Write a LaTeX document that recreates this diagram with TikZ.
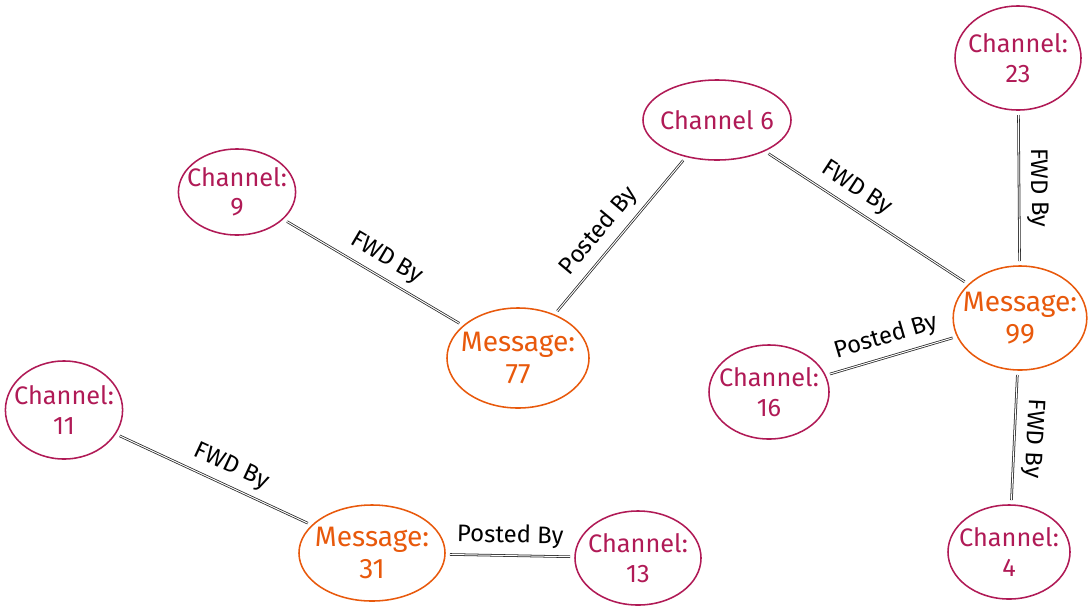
\documentclass[tikz,border=0pt]{standalone}
\usepackage{fontspec}
\setmainfont{Fira Sans}
\usetikzlibrary{shapes.geometric}

\definecolor{chancol}{RGB}{176,26,86}
\definecolor{msgcol}{RGB}{232,89,12}
\definecolor{relcol}{RGB}{40,40,40}

\begin{document}
\begin{tikzpicture}[x=0.025cm, y=-0.025cm,
    chan/.style={ellipse, draw=chancol, text=chancol, line width=1.1pt,
        inner xsep=-6pt, inner ysep=-3pt, align=center, font=\fontsize{18}{21}\selectfont},
    msg/.style={ellipse, draw=msgcol, text=msgcol, line width=1.1pt,
        inner xsep=-7pt, inner ysep=-3pt, align=center, font=\fontsize{20}{23}\selectfont},
    rel/.style={draw=relcol, line width=0.55pt, double=white, double distance=0.7pt,
        shorten <=3pt, shorten >=3pt},
    lbl/.style={sloped, above=2pt, text=black, font=\fontsize{17}{20}\selectfont}]
    % ================= Canvas =================
    \useasboundingbox (0,0) rectangle (1089,606);

    % ================= Messages =================
    \node[msg, minimum width=3.55cm, minimum height=2.5cm] (m77) at (518,358) {Message:\\77};
    \node[msg, minimum width=3.3cm, minimum height=2.6cm] (m99) at (1020,318) {Message:\\99};
    \node[msg, minimum width=3.65cm, minimum height=2.4cm] (m31) at (372,553) {Message:\\31};

    % ================= Channels =================
    \node[chan, minimum width=2.9cm, minimum height=2.15cm] (c9) at (237,192) {Channel:\\9};
    \node[chan, minimum width=3.7cm, minimum height=2cm] (c6) at (717,120) {Channel 6};
    \node[chan, minimum width=3.15cm, minimum height=2.6cm] (c23) at (1018,58) {Channel:\\23};
    \node[chan, minimum width=3cm, minimum height=2.35cm] (c16) at (769,392) {Channel:\\16};
    \node[chan, minimum width=3.05cm, minimum height=2.35cm] (c4) at (1009,552) {Channel:\\4};
    \node[chan, minimum width=2.85cm, minimum height=2.45cm] (c11) at (64,410) {Channel:\\11};
    \node[chan, minimum width=3.15cm, minimum height=2.35cm] (c13) at (638,558) {Channel:\\13};

    % ================= Relations =================
    \draw[rel] (c9) -- (m77) node[lbl, pos=0.52] {FWD By};
    \draw[rel] (m77) -- (c6) node[lbl, pos=0.45] {Posted By};
    \draw[rel] (c6) -- (m99) node[lbl, pos=0.4] {FWD By};
    \draw[rel] (c23) -- (m99) node[lbl, pos=0.5] {FWD By};
    \draw[rel] (c16) -- (m99) node[lbl, pos=0.5] {Posted By};
    \draw[rel] (m99) -- (c4) node[lbl, allow upside down, pos=0.5] {FWD By};
    \draw[rel] (c11) -- (m31) node[lbl, pos=0.55] {FWD By};
    \draw[rel] (m31) -- (c13) node[lbl, pos=0.5] {Posted By};

\end{tikzpicture}
\end{document}
